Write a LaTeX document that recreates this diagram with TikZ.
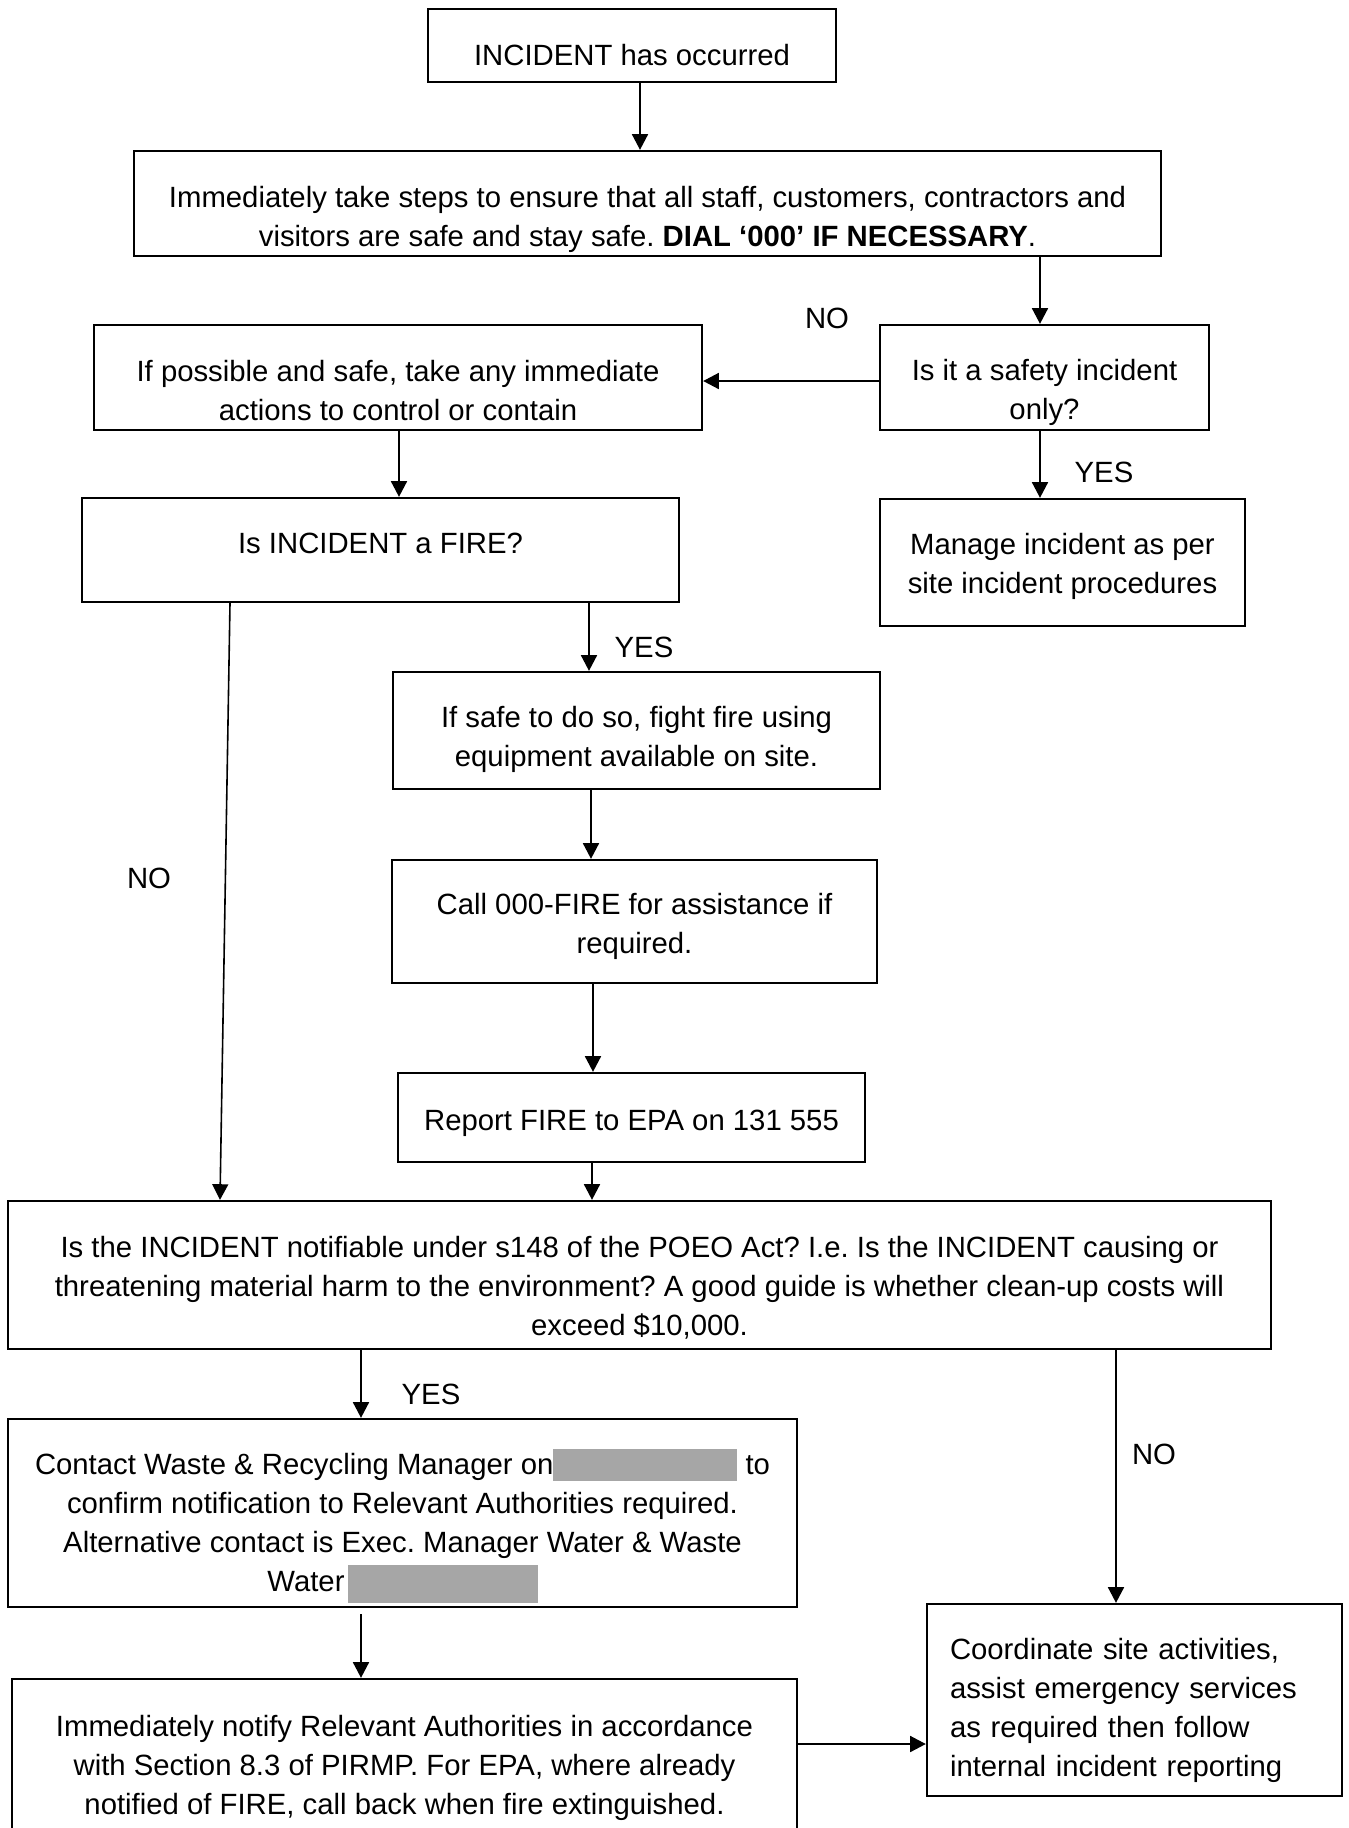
\documentclass[tikz,border=0pt]{standalone}
\usepackage{fontspec}
\setmainfont{Liberation Sans}
\usetikzlibrary{arrows.meta,calc}
\definecolor{redact}{RGB}{166,166,166}
\newcommand{\grayblock}[3]{\textcolor{redact}{\rule[#3]{#1}{#2}}}
\newcommand{\sdown}[1]{\rule{0pt}{#1}}
\frenchspacing
\begin{document}
\begin{tikzpicture}[x=0.5pt,y=-0.5pt,
  box/.style={draw, line width=1.2pt, inner sep=0pt, align=center,
    font=\fontsize{14.65}{19.5}\selectfont},
  arr/.style={line width=0.8pt, -{Triangle[length=7.8pt,width=8pt]}},
  lbl/.style={font=\fontsize{14.65}{19.5}\selectfont, inner sep=0pt}]
\useasboundingbox (0,0) rectangle (1349,1828);
\clip (0,0) rectangle (1349,1828);

% boxes
\node[box, minimum width=204pt, minimum height=36.5pt] (b1) at (632,45.5) {\sdown{19.7pt}INCIDENT has occurred};
\node[box, minimum width=513.5pt, minimum height=52.5pt] (b2) at (647.5,203.5)
  {\sdown{26.7pt}Immediately take steps to ensure that all staff, customers, contractors and\\
   visitors are safe and stay safe. \textbf{DIAL ‘000’ IF NECESSARY}.};
\node[box, minimum width=304pt, minimum height=52.5pt] (b3) at (398,377.5)
  {\sdown{23.7pt}If possible and safe, take any immediate\\actions to control or contain};
\node[box, minimum width=164.5pt, minimum height=52.5pt] (b4) at (1044.5,377.5)
  {\sdown{25.7pt}Is it a safety incident\\only?};
\node[box, minimum width=182.5pt, minimum height=63.5pt] (b5) at (1062.5,562.5)
  {\sdown{14.7pt}Manage incident as per\\site incident procedures};
\node[box, minimum width=298.5pt, minimum height=52pt, text depth=7pt] (b6) at (380.5,550)
  {Is INCIDENT a FIRE?};
\node[box, minimum width=243.5pt, minimum height=58.5pt] (b7) at (636.5,730.5)
  {\sdown{19.7pt}If safe to do so, fight fire using\\equipment available on site.};
\node[box, minimum width=242.5pt, minimum height=61.5pt] (b8) at (634.5,921.5)
  {\sdown{15.7pt}Call 000-FIRE for assistance if\\required.};
\node[box, minimum width=233.5pt, minimum height=44.5pt] (b9) at (631.5,1117.5)
  {\sdown{15.7pt}Report FIRE to EPA on 131 555};
\node[box, minimum width=631.5pt, minimum height=74pt] (b10) at (639.5,1275)
  {\sdown{23.7pt}Is the INCIDENT notifiable under s148 of the POEO Act? I.e. Is the INCIDENT causing or\\
   threatening material harm to the environment? A good guide is whether clean-up costs will\\
   exceed \$10,000.};
\node[box, minimum width=394.5pt, minimum height=94pt] (b11) at (402.5,1513)
  {\sdown{25.5pt}Contact Waste \& Recycling Manager on\grayblock{92pt}{16pt}{-3.5pt} to\\
   confirm notification to Relevant Authorities required.\\
   Alternative contact is Exec. Manager Water \& Waste\\
   Water\hspace{1.5pt}\grayblock{95pt}{19pt}{-5.7pt}};
\node[box, minimum width=392.5pt, minimum height=85pt] (b12) at (404.5,1764)
  {\sdown{14.2pt}Immediately notify Relevant Authorities in accordance\\
   with Section 8.3 of PIRMP. For EPA, where already\\
   notified of FIRE, call back when fire extinguished.};
\node[box, minimum width=207.5pt, minimum height=96pt, align=left, text width=184.5pt] (b13) at (1134.5,1700)
  {\sdown{21.2pt}Coordinate site activities,\\assist emergency services\\as required then follow\\internal incident reporting};

% connector guide coordinates
\coordinate (c1) at (640,0);
\coordinate (c2) at (1040,0);
\coordinate (c3) at (0,381);
\coordinate (c5) at (399,0);
\coordinate (c6) at (589,0);
\coordinate (c7) at (591,0);
\coordinate (c8) at (593,0);
\coordinate (c9) at (592,0);
\coordinate (c10a) at (230,0);
\coordinate (c10b) at (220,0);
\coordinate (c11) at (361,0);
\coordinate (c13) at (1116,0);
\coordinate (c14) at (0,1744);

% connectors
\draw[arr] (b1.south -| c1) -- (b2.north -| c1);
\draw[arr] (b2.south -| c2) -- (b4.north -| c2);
\draw[arr] (b4.west |- c3) -- (b3.east |- c3);
\draw[arr] (b4.south -| c2) -- (b5.north -| c2);
\draw[arr] (b3.south -| c5) -- (b6.north -| c5);
\draw[arr] (b6.south -| c6) -- (b7.north -| c6);
\draw[arr] (b7.south -| c7) -- (b8.north -| c7);
\draw[arr] (b8.south -| c8) -- (b9.north -| c8);
\draw[arr] (b9.south -| c9) -- (b10.north -| c9);
\draw[arr] (b6.south -| c10a) -- (b10.north -| c10b);
\draw[arr] (b10.south -| c11) -- (b11.north -| c11);
\draw[arr] ($(b11.south -| c11)+(0,6)$) -- (b12.north -| c11);
\draw[arr] (b10.south -| c13) -- (b13.north -| c13);
\draw[arr] (b12.east |- c14) -- (b13.west |- c14);

% labels
\node[lbl] (l1) at (827,318) {NO};
\node[lbl] (l2) at (1104,472) {YES};
\node[lbl] (l3) at (644,647) {YES};
\node[lbl] (l4) at (149,878) {NO};
\node[lbl] (l5) at (431,1394) {YES};
\node[lbl] (l6) at (1154,1454) {NO};
\end{tikzpicture}
\end{document}
